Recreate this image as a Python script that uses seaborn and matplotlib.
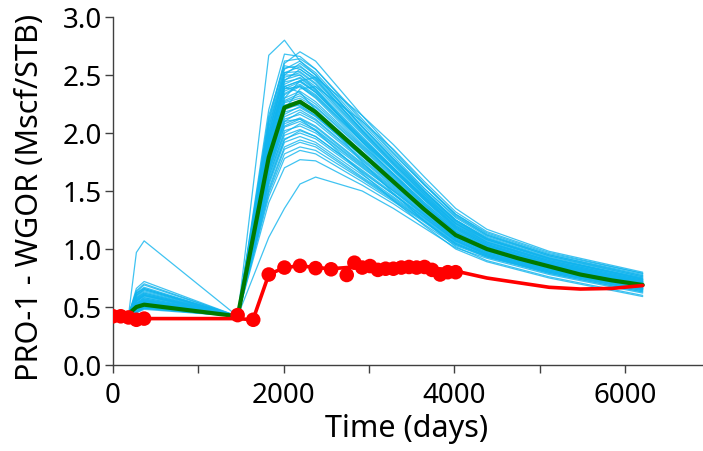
import matplotlib
matplotlib.use("Agg")
import matplotlib.pyplot as plt
import seaborn as sns
import pandas as pd
import numpy as np
from matplotlib.ticker import MultipleLocator

# ---------------- data ----------------
# ensemble report times (days)
ens_times = [0, 182, 274, 365, 1461, 1826, 2010, 2192, 2375, 2922, 3287, 3652, 4017, 4383, 5113, 6210]

# each ensemble member: WGOR at ens_times
ens_members = [
    [0.42, 0.43, 0.62, 0.66, 0.42, 2.67, 2.80, 2.62, 2.50, 2.05, 1.78, 1.52, 1.28, 1.12, 0.95, 0.78],
    [0.42, 0.43, 0.97, 1.07, 0.42, 1.95, 2.40, 2.45, 2.35, 1.95, 1.70, 1.45, 1.22, 1.08, 0.92, 0.75],
    [0.42, 0.43, 0.60, 0.65, 0.42, 2.20, 2.68, 2.66, 2.55, 2.10, 1.82, 1.55, 1.30, 1.14, 0.96, 0.79],
    [0.42, 0.43, 0.55, 0.60, 0.42, 2.10, 2.60, 2.70, 2.62, 2.15, 1.85, 1.56, 1.30, 1.13, 0.95, 0.77],
    [0.42, 0.43, 0.50, 0.55, 0.42, 2.05, 2.55, 2.62, 2.52, 2.08, 1.80, 1.52, 1.27, 1.11, 0.94, 0.76],
    [0.42, 0.43, 0.66, 0.72, 0.42, 2.15, 2.58, 2.55, 2.45, 2.02, 1.75, 1.49, 1.25, 1.10, 0.93, 0.76],
    [0.42, 0.43, 0.48, 0.52, 0.42, 1.98, 2.50, 2.60, 2.50, 2.06, 1.78, 1.50, 1.25, 1.09, 0.92, 0.74],
    [0.42, 0.43, 0.57, 0.62, 0.42, 2.00, 2.48, 2.52, 2.42, 2.00, 1.73, 1.47, 1.23, 1.08, 0.91, 0.74],
    [0.42, 0.43, 0.46, 0.50, 0.42, 1.95, 2.45, 2.55, 2.46, 2.03, 1.76, 1.49, 1.24, 1.09, 0.92, 0.74],
    [0.42, 0.43, 0.53, 0.58, 0.42, 1.92, 2.42, 2.48, 2.38, 1.97, 1.70, 1.45, 1.21, 1.06, 0.90, 0.73],
    [0.42, 0.43, 0.50, 0.54, 0.42, 1.90, 2.40, 2.45, 2.36, 1.95, 1.69, 1.44, 1.20, 1.06, 0.90, 0.73],
    [0.42, 0.43, 0.63, 0.69, 0.42, 1.88, 2.36, 2.42, 2.33, 1.93, 1.68, 1.43, 1.19, 1.05, 0.89, 0.72],
    [0.42, 0.43, 0.47, 0.51, 0.42, 1.85, 2.33, 2.40, 2.31, 1.92, 1.67, 1.42, 1.18, 1.04, 0.88, 0.72],
    [0.42, 0.43, 0.55, 0.60, 0.42, 1.83, 2.30, 2.36, 2.27, 1.89, 1.65, 1.40, 1.17, 1.03, 0.88, 0.71],
    [0.42, 0.43, 0.52, 0.56, 0.42, 1.80, 2.28, 2.34, 2.25, 1.88, 1.64, 1.39, 1.16, 1.03, 0.87, 0.71],
    [0.42, 0.43, 0.45, 0.49, 0.42, 1.82, 2.26, 2.30, 2.22, 1.86, 1.62, 1.38, 1.15, 1.02, 0.87, 0.71],
    [0.42, 0.43, 0.59, 0.64, 0.42, 1.78, 2.24, 2.28, 2.20, 1.84, 1.61, 1.37, 1.14, 1.01, 0.86, 0.70],
    [0.42, 0.43, 0.50, 0.53, 0.42, 1.76, 2.20, 2.25, 2.17, 1.82, 1.59, 1.35, 1.13, 1.00, 0.86, 0.70],
    [0.42, 0.43, 0.48, 0.52, 0.42, 1.74, 2.18, 2.22, 2.14, 1.80, 1.57, 1.34, 1.12, 0.99, 0.85, 0.69],
    [0.42, 0.43, 0.56, 0.61, 0.42, 1.72, 2.14, 2.20, 2.12, 1.78, 1.56, 1.33, 1.11, 0.99, 0.85, 0.69],
    [0.42, 0.43, 0.51, 0.55, 0.42, 1.70, 2.12, 2.16, 2.09, 1.76, 1.54, 1.32, 1.10, 0.98, 0.84, 0.69],
    [0.42, 0.43, 0.46, 0.49, 0.42, 1.68, 2.08, 2.13, 2.06, 1.74, 1.53, 1.31, 1.10, 0.98, 0.84, 0.68],
    [0.42, 0.43, 0.54, 0.58, 0.42, 1.65, 2.05, 2.10, 2.03, 1.72, 1.51, 1.30, 1.09, 0.97, 0.83, 0.68],
    [0.42, 0.43, 0.49, 0.53, 0.42, 1.62, 2.02, 2.06, 2.00, 1.70, 1.50, 1.29, 1.08, 0.96, 0.83, 0.67],
    [0.42, 0.43, 0.61, 0.66, 0.42, 1.60, 1.98, 2.03, 1.97, 1.68, 1.48, 1.28, 1.07, 0.96, 0.82, 0.67],
    [0.42, 0.43, 0.47, 0.50, 0.42, 1.58, 1.95, 2.00, 1.95, 1.66, 1.47, 1.27, 1.07, 0.95, 0.82, 0.66],
    [0.42, 0.43, 0.52, 0.56, 0.42, 1.55, 1.92, 1.97, 1.92, 1.64, 1.45, 1.26, 1.06, 0.95, 0.81, 0.66],
    [0.42, 0.43, 0.45, 0.48, 0.42, 1.52, 1.88, 1.94, 1.90, 1.62, 1.44, 1.25, 1.05, 0.94, 0.81, 0.65],
    [0.42, 0.43, 0.50, 0.54, 0.42, 1.48, 1.82, 1.88, 1.85, 1.60, 1.42, 1.24, 1.04, 0.94, 0.80, 0.65],
    [0.42, 0.43, 0.56, 0.60, 0.42, 1.45, 1.78, 1.85, 1.82, 1.58, 1.41, 1.23, 1.04, 0.93, 0.80, 0.64],
    [0.42, 0.43, 0.48, 0.51, 0.42, 1.40, 1.70, 1.77, 1.76, 1.55, 1.39, 1.21, 1.03, 0.93, 0.79, 0.63],
    [0.42, 0.43, 0.47, 0.50, 0.42, 1.10, 1.35, 1.56, 1.62, 1.50, 1.35, 1.18, 1.01, 0.92, 0.78, 0.62],
    [0.42, 0.43, 0.58, 0.63, 0.42, 2.08, 2.56, 2.58, 2.47, 2.02, 1.74, 1.47, 1.22, 1.06, 0.89, 0.72],
    [0.42, 0.43, 0.51, 0.55, 0.42, 2.02, 2.52, 2.57, 2.48, 2.05, 1.77, 1.50, 1.25, 1.09, 0.92, 0.75],
    [0.42, 0.43, 0.62, 0.67, 0.42, 1.96, 2.46, 2.50, 2.40, 1.99, 1.72, 1.46, 1.22, 1.07, 0.90, 0.73],
    [0.42, 0.43, 0.49, 0.52, 0.42, 1.93, 2.44, 2.47, 2.37, 1.96, 1.70, 1.44, 1.20, 1.05, 0.89, 0.72],
    [0.42, 0.43, 0.53, 0.57, 0.42, 1.87, 2.38, 2.44, 2.35, 1.94, 1.69, 1.43, 1.19, 1.04, 0.88, 0.71],
    [0.42, 0.43, 0.46, 0.50, 0.42, 1.84, 2.34, 2.41, 2.32, 1.93, 1.68, 1.42, 1.18, 1.04, 0.87, 0.70],
    [0.42, 0.43, 0.57, 0.61, 0.42, 1.79, 2.27, 2.32, 2.23, 1.87, 1.63, 1.38, 1.15, 1.02, 0.86, 0.70],
    [0.42, 0.43, 0.50, 0.54, 0.42, 1.75, 2.22, 2.27, 2.19, 1.83, 1.60, 1.36, 1.13, 1.00, 0.85, 0.69],
    [0.42, 0.43, 0.64, 0.70, 0.42, 1.73, 2.16, 2.23, 2.15, 1.80, 1.58, 1.35, 1.12, 0.99, 0.84, 0.68],
    [0.42, 0.43, 0.48, 0.52, 0.42, 1.69, 2.10, 2.18, 2.11, 1.77, 1.55, 1.33, 1.11, 0.98, 0.83, 0.67],
    [0.42, 0.43, 0.52, 0.56, 0.42, 1.66, 2.06, 2.12, 2.05, 1.73, 1.52, 1.30, 1.09, 0.97, 0.82, 0.66],
    [0.42, 0.43, 0.55, 0.59, 0.42, 1.63, 2.00, 2.08, 2.02, 1.71, 1.50, 1.29, 1.08, 0.96, 0.81, 0.65],
    [0.42, 0.43, 0.46, 0.49, 0.42, 1.57, 1.94, 2.02, 1.97, 1.67, 1.47, 1.27, 1.07, 0.95, 0.80, 0.64],
    [0.42, 0.43, 0.50, 0.53, 0.42, 1.50, 1.86, 1.92, 1.88, 1.61, 1.43, 1.24, 1.05, 0.94, 0.79, 0.63],
    [0.42, 0.43, 0.53, 0.57, 0.42, 2.12, 2.62, 2.64, 2.55, 2.12, 1.83, 1.55, 1.29, 1.12, 0.94, 0.77],
    [0.42, 0.43, 0.49, 0.53, 0.42, 2.05, 2.52, 2.53, 2.43, 2.01, 1.74, 1.48, 1.24, 1.08, 0.91, 0.74],
    [0.42, 0.43, 0.60, 0.65, 0.42, 1.90, 2.38, 2.40, 2.30, 1.90, 1.65, 1.40, 1.17, 1.03, 0.87, 0.71],
    [0.42, 0.43, 0.47, 0.51, 0.42, 1.77, 2.22, 2.24, 2.15, 1.80, 1.57, 1.34, 1.12, 0.99, 0.84, 0.68],
    [0.42, 0.43, 0.55, 0.60, 0.42, 1.85, 2.30, 2.45, 2.48, 2.15, 1.90, 1.62, 1.35, 1.17, 0.98, 0.80],
    [0.42, 0.43, 0.50, 0.54, 0.42, 1.75, 2.20, 2.38, 2.40, 2.10, 1.86, 1.58, 1.32, 1.15, 0.97, 0.79],
    [0.42, 0.43, 0.47, 0.51, 0.42, 1.95, 2.40, 2.35, 2.20, 1.75, 1.48, 1.24, 1.02, 0.90, 0.76, 0.60],
    [0.42, 0.43, 0.58, 0.62, 0.42, 1.70, 2.10, 2.12, 2.02, 1.65, 1.42, 1.20, 1.00, 0.89, 0.75, 0.59],
    [0.42, 0.43, 0.52, 0.56, 0.42, 2.00, 2.50, 2.50, 2.38, 1.92, 1.64, 1.38, 1.15, 1.00, 0.84, 0.66],
]

# ensemble mean (green)
mean_times = [0, 182, 274, 365, 1461, 1826, 2010, 2192, 2375, 2557, 2922, 3287, 3652,
              4017, 4383, 4748, 5113, 5479, 5844, 6210]
mean_values = [0.42, 0.44, 0.50, 0.52, 0.42, 1.79, 2.22, 2.27, 2.18, 2.06, 1.82, 1.58, 1.34,
               1.12, 1.00, 0.92, 0.85, 0.78, 0.73, 0.69]

# base/history line (red)
red_times = [0, 365, 1461, 1641, 1826, 2010, 2192, 2375, 2557, 2922, 3287, 3652, 4017,
             4383, 4748, 5113, 5479, 5844, 6210]
red_values = [0.40, 0.40, 0.40, 0.39, 0.78, 0.84, 0.855, 0.84, 0.83, 0.85, 0.835, 0.845, 0.81,
              0.75, 0.71, 0.67, 0.655, 0.66, 0.685]

# observed data (red dots)
obs_times = [0, 91, 182, 274, 365, 1461, 1644, 1826, 2010, 2192, 2375, 2557, 2740, 2830,
             2922, 3013, 3105, 3196, 3287, 3380, 3470, 3560, 3652, 3740, 3835, 3925, 4017]
obs_values = [0.42, 0.42, 0.41, 0.39, 0.40, 0.43, 0.39, 0.78, 0.84, 0.855, 0.835, 0.825, 0.776,
              0.882, 0.84, 0.853, 0.82, 0.83, 0.83, 0.84, 0.845, 0.84, 0.845, 0.82, 0.78, 0.80, 0.80]

x_ticks = [0, 2000, 4000, 6000]
y_ticks = [0.0, 0.5, 1.0, 1.5, 2.0, 2.5, 3.0]

# ---------------- build frames ----------------
ens_df = pd.DataFrame(
    [(m, t, v) for m, row in enumerate(ens_members) for t, v in zip(ens_times, row)],
    columns=["member", "t", "v"],
)
mean_df = pd.DataFrame({"t": mean_times, "v": mean_values})
red_df = pd.DataFrame({"t": red_times, "v": red_values})
obs_df = pd.DataFrame({"t": obs_times, "v": obs_values})

# ---------------- plot ----------------
sns.set_style("ticks")
plt.rcParams["font.family"] = ["Noto Sans", "DejaVu Sans"]

fig = plt.figure(figsize=(7.03, 4.51), dpi=100)
ax = fig.add_axes([113 / 703, (451 - 365) / 451, 1 - 113 / 703, (365 - 17) / 451])

sns.lineplot(data=ens_df, x="t", y="v", units="member", estimator=None,
             color="#10B4EE", linewidth=0.9, alpha=0.8, ax=ax, legend=False, sort=False)
sns.lineplot(data=mean_df, x="t", y="v", color="#007A00", linewidth=3.0, ax=ax,
             legend=False, sort=False, zorder=3)
sns.lineplot(data=red_df, x="t", y="v", color="#FF0000", linewidth=2.6, ax=ax,
             legend=False, sort=False, zorder=4)
sns.scatterplot(data=obs_df, x="t", y="v", color="#FF0000", s=110, edgecolor="none",
                ax=ax, legend=False, zorder=5)

ax.set_xlim(0, (703 - 113) / 85.3 * 1000)
ax.set_ylim(0, 3.0)
ax.set_xticks(x_ticks)
ax.set_xticklabels([str(v) for v in x_ticks])
ax.xaxis.set_minor_locator(MultipleLocator(1000))
ax.set_yticks(y_ticks)
ax.set_yticklabels([f"{v:.1f}" for v in y_ticks])

spine_color = "#404040"
for side in ["top", "right"]:
    ax.spines[side].set_visible(False)
for side in ["left", "bottom"]:
    ax.spines[side].set_color(spine_color)
    ax.spines[side].set_linewidth(1.0)

ax.tick_params(axis="both", which="both", direction="out", length=6, width=1.0,
               color=spine_color, labelsize=20, labelcolor="black")
ax.tick_params(axis="y", pad=2)
ax.tick_params(axis="x", which="both", pad=6)

ax.set_xlabel("Time (days)", fontsize=22, color="black")
ax.set_ylabel("PRO-1 - WGOR (Mscf/STB)", fontsize=22, color="black")
ax.xaxis.set_label_coords((407 - 113) / 590, (365 - 414) / 348)
ax.yaxis.set_label_coords((45 - 113) / 590, (365 - 197) / 348)

fig.savefig("out.png", dpi=100)
